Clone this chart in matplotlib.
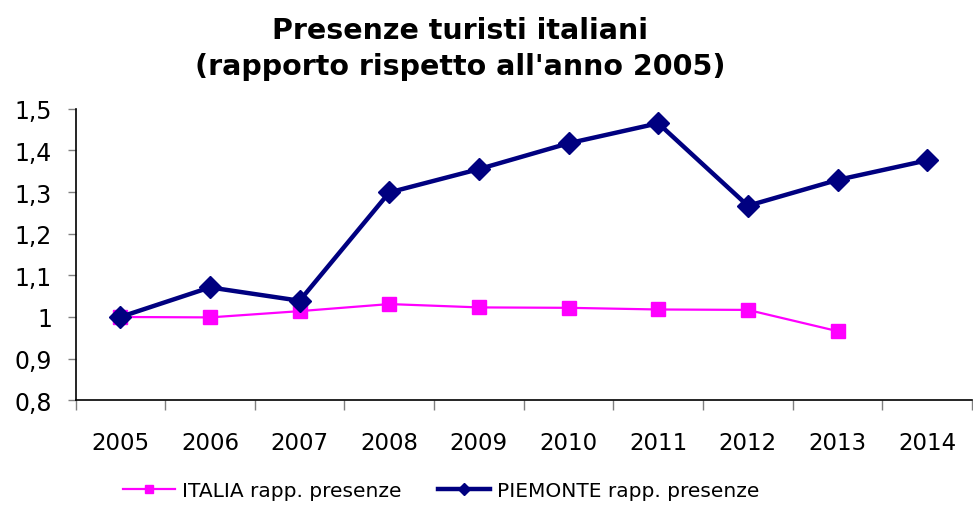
import matplotlib
matplotlib.use("Agg")
import matplotlib.pyplot as plt
import numpy as np

years = ["2005", "2006", "2007", "2008", "2009", "2010", "2011", "2012", "2013", "2014"]
italia = [1.000, 0.999, 1.014, 1.031, 1.023, 1.022, 1.018, 1.017, 0.966, None]
piemonte = [1.000, 1.071, 1.039, 1.299, 1.355, 1.417, 1.465, 1.267, 1.329, 1.376]
yticks = [0.8, 0.9, 1.0, 1.1, 1.2, 1.3, 1.4, 1.5]
ytick_labels = ["0,8", "0,9", "1", "1,1", "1,2", "1,3", "1,4", "1,5"]

plt.rcParams['font.family'] = ['DejaVu Sans']

fig = plt.figure(figsize=(9.73, 5.06), dpi=100)
W, H = 973, 506
ax = fig.add_axes([75.5 / W, 1 - 401.3 / H, (972 - 75.5) / W, (401.3 - 109.7) / H])

x = np.arange(len(years))
it = np.array([np.nan if v is None else v for v in italia], dtype=float)
pm = np.array(piemonte, dtype=float)

ax.plot(x, it, color="#FF00FF", lw=1.6, marker="s", ms=10.5, mec="#FF00FF",
        label="ITALIA rapp. presenze", zorder=3)
ax.plot(x, pm, color="#000080", lw=3.2, marker="D", ms=11, mec="#000080",
        label="PIEMONTE rapp. presenze", zorder=4)

ax.set_xlim(-0.5, len(years) - 0.5)
ax.set_ylim(0.8, 1.5)
ax.set_yticks(yticks)
ax.set_yticklabels(ytick_labels, fontsize=17)
ax.set_xticks(np.arange(-0.5, len(years), 1.0))
ax.set_xticklabels([])
ax.set_xticks(x, minor=True)
ax.set_xticklabels(years, minor=True, fontsize=16.5)
ax.tick_params(axis="x", which="major", direction="out", length=7, color="#808080", width=1)
ax.tick_params(axis="x", which="minor", length=0, pad=22)
ax.tick_params(axis="y", direction="out", length=6, color="#808080", width=1, pad=11)

for s in ["top", "right"]:
    ax.spines[s].set_visible(False)
for s in ["left", "bottom"]:
    ax.spines[s].set_color("black")
    ax.spines[s].set_linewidth(1.2)

fig.text(460 / W, 1 - 49 / H, "Presenze turisti italiani\n(rapporto rispetto all'anno 2005)",
         ha="center", va="center", fontsize=20.5, fontweight="bold", linespacing=1.35)

leg = fig.legend(loc="center", bbox_to_anchor=(441 / W, 1 - 492 / H), ncol=2,
                 frameon=False, fontsize=14.5, handlelength=2.6, columnspacing=1.8,
                 handletextpad=0.35, markerscale=0.55)

fig.savefig("out.png", dpi=100)
